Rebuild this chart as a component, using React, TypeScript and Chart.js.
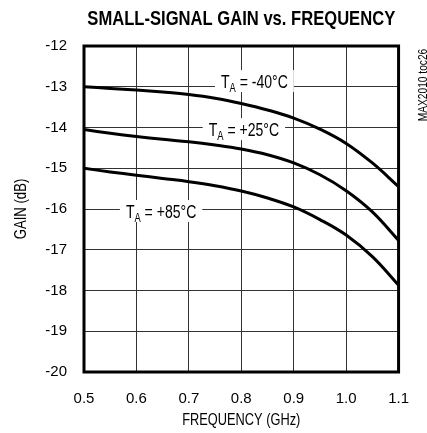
import React, { useEffect, useRef } from "react";
import { Chart, registerables } from "chart.js";

Chart.register(...registerables);

// ---- data ----
const freqs = [0.5, 0.55, 0.6, 0.65, 0.7, 0.75, 0.8, 0.85, 0.9, 0.95, 1.0, 1.05, 1.1];
const gainM40 = [-13.0, -13.04, -13.08, -13.13, -13.19, -13.28, -13.41, -13.57, -13.77, -14.04, -14.39, -14.87, -15.45];
const gainP25 = [-14.05, -14.14, -14.22, -14.29, -14.35, -14.43, -14.53, -14.67, -14.87, -15.16, -15.55, -16.07, -16.77];
const gainP85 = [-15.0, -15.09, -15.17, -15.25, -15.33, -15.43, -15.56, -15.73, -15.95, -16.26, -16.64, -17.17, -17.87];
const xTicks = [0.5, 0.6, 0.7, 0.8, 0.9, 1.0, 1.1];
const yTicks = [-12, -13, -14, -15, -16, -17, -18, -19, -20];
const tempLabels = ["-40°C", "+25°C", "+85°C"];
const tempLabelFreq = [0.825, 0.805, 0.647];
const tempLabelGain = [-12.86, -14.04, -16.05];

const titleText = "SMALL-SIGNAL GAIN vs. FREQUENCY";
const noteText = "MAX2010 toc26";
const xTitle = "FREQUENCY (GHz)";
const yTitle = "GAIN (dB)";

const FONT = "'Liberation Sans', Arial, sans-serif";

function condensed(ctx: any, text: string, x: number, y: number, font: string, sx: number, align: string, baseline: string) {
  ctx.save();
  ctx.font = font;
  ctx.translate(x, y);
  ctx.scale(sx, 1);
  ctx.textAlign = align;
  ctx.textBaseline = baseline;
  ctx.fillText(text, 0, 0);
  ctx.restore();
}

const overlayPlugin = {
  id: "overlay",
  beforeDatasetsDraw(chart: any) {
    const ctx = chart.ctx;
    const xs = chart.scales.x;
    const ys = chart.scales.y;
    const sx = 0.78;
    ctx.save();
    for (let i = 0; i < tempLabels.length; i++) {
      const cx = xs.getPixelForValue(tempLabelFreq[i]);
      const cy = ys.getPixelForValue(tempLabelGain[i]);
      const big = `18px ${FONT}`;
      const small = `12px ${FONT}`;
      ctx.font = big;
      const wT = ctx.measureText("T").width * sx;
      const rest = " = " + tempLabels[i];
      const wR = ctx.measureText(rest).width * sx;
      ctx.font = small;
      const wA = ctx.measureText("A").width * sx;
      const w = wT + wA + wR;
      const x0 = cx - w / 2;
      ctx.fillStyle = "#fff";
      ctx.fillRect(x0 - 6, cy - 11, w + 12, 22);
      ctx.fillStyle = "#000";
      const base = cy + 6.5;
      condensed(ctx, "T", x0, base, big, sx, "left", "alphabetic");
      condensed(ctx, "A", x0 + wT, base + 4, small, sx, "left", "alphabetic");
      condensed(ctx, rest, x0 + wT + wA, base, big, sx, "left", "alphabetic");
    }
    ctx.restore();
  },
  afterDatasetsDraw(chart: any) {
    const ctx = chart.ctx;
    const a = chart.chartArea;
    ctx.save();
    ctx.strokeStyle = "#000";
    ctx.lineWidth = 3;
    ctx.strokeRect(a.left, a.top, a.right - a.left, a.bottom - a.top);
    ctx.restore();
  },
  afterDraw(chart: any) {
    const ctx = chart.ctx;
    const a = chart.chartArea;
    ctx.save();
    ctx.fillStyle = "#000";
    const midX = (a.left + a.right) / 2;
    const midY = (a.top + a.bottom) / 2;
    condensed(ctx, titleText, midX, 19, `bold 21px ${FONT}`, 0.79, "center", "middle");
    condensed(ctx, xTitle, midX, 421, `16px ${FONT}`, 0.8, "center", "middle");
    ctx.save();
    ctx.translate(22, midY);
    ctx.rotate(-Math.PI / 2);
    condensed(ctx, yTitle, 0, 0, `16px ${FONT}`, 0.82, "center", "middle");
    ctx.restore();
    ctx.save();
    ctx.translate(424, 85);
    ctx.rotate(-Math.PI / 2);
    condensed(ctx, noteText, 0, 0, `12px ${FONT}`, 0.85, "center", "middle");
    ctx.restore();
    ctx.restore();
  },
};

export default function App() {
  const ref = useRef<HTMLCanvasElement | null>(null);
  useEffect(() => {
    if (!ref.current) return;
    const mk = (vals: number[]) => freqs.map((f, i) => ({ x: f, y: vals[i] }));
    const ds = (vals: number[]) => ({
      data: mk(vals),
      borderColor: "#000",
      borderWidth: 3,
      pointRadius: 0,
      fill: false,
      tension: 0.4,
    });
    const chart = new Chart(ref.current, {
      type: "line",
      data: { datasets: [ds(gainM40), ds(gainP25), ds(gainP85)] },
      options: {
        animation: false,
        responsive: false,
        devicePixelRatio: 1,
        layout: { padding: { top: 46, right: 19, left: 0, bottom: 0 } },
        plugins: { legend: { display: false }, tooltip: { enabled: false }, title: { display: false } },
        scales: {
          x: {
            type: "linear",
            min: 0.5,
            max: 1.1,
            afterBuildTicks: (s: any) => {
              s.ticks = xTicks.map((v) => ({ value: v }));
            },
            afterFit: (s: any) => {
              s.height = 61;
            },
            ticks: {
              callback: (v: any) => Number(v).toFixed(1),
              font: { family: FONT, size: 15 },
              color: "#000",
              padding: 18,
              maxRotation: 0,
            },
            grid: { color: "#333", lineWidth: 1, drawTicks: false },
            border: { display: false },
          },
          y: {
            type: "linear",
            min: -20,
            max: -12,
            afterBuildTicks: (s: any) => {
              s.ticks = yTicks.map((v) => ({ value: v }));
            },
            afterFit: (s: any) => {
              s.width = 84;
            },
            ticks: {
              callback: (v: any) => String(v),
              font: { family: FONT, size: 15 },
              color: "#000",
              padding: 17,
            },
            grid: { color: "#333", lineWidth: 1, drawTicks: false },
            border: { display: false },
          },
        },
      },
      plugins: [overlayPlugin],
    });
    return () => chart.destroy();
  }, []);
  return (
    <div style={{ position: "absolute", left: 0, top: 0, width: 427, height: 433, background: "#fff" }}>
      <canvas ref={ref} width={427} height={433} style={{ display: "block" }} />
    </div>
  );
}
